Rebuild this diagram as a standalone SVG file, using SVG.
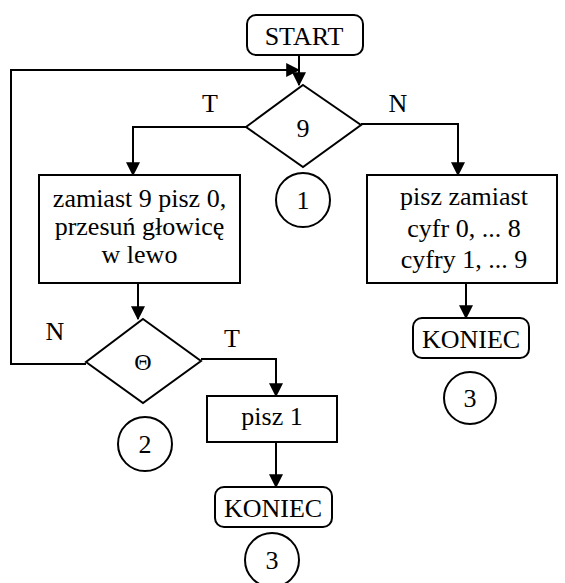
<svg xmlns="http://www.w3.org/2000/svg" width="565" height="583" viewBox="0 0 565 583" font-family="'Liberation Serif', 'Times New Roman', serif">
  <style>
    .shape { fill: #ffffff; stroke: #000000; stroke-width: 2; }
    .wire { fill: none; stroke: #000000; stroke-width: 2; }
    text { font-family: 'Liberation Serif', 'Times New Roman', serif; font-size: 26px; fill: #000000; text-anchor: middle; }
    .sym { font-size: 24px; }
  </style>
  <defs>
    <marker id="arrow" markerUnits="userSpaceOnUse" markerWidth="14" markerHeight="14" viewBox="0 0 12 12" refX="11" refY="6" orient="auto">
      <path d="M0,0 L12,6 L0,12 Z" fill="#000000"/>
    </marker>
  </defs>
  <rect width="565" height="583" fill="#ffffff"/>

  <!-- connectors -->
  <g id="connectors">
    <path class="wire" d="M299,55 V85" marker-end="url(#arrow)"/>
    <path class="wire" d="M86,364 H11 V70 H299" marker-end="url(#arrow)"/>
    <path class="wire" d="M246,127 H133 V175" marker-end="url(#arrow)"/>
    <path class="wire" d="M361,124 H458 V175" marker-end="url(#arrow)"/>
    <path class="wire" d="M138,283 V319" marker-end="url(#arrow)"/>
    <path class="wire" d="M201,359 H276 V396" marker-end="url(#arrow)"/>
    <path class="wire" d="M466,283 V318" marker-end="url(#arrow)"/>
    <path class="wire" d="M276,442 V487" marker-end="url(#arrow)"/>
    <text x="210" y="112">T</text>
    <text x="398" y="112">N</text>
    <text x="55" y="340">N</text>
    <text x="232" y="347">T</text>
  </g>

  <g id="start">
    <rect class="shape" x="247" y="15" width="116" height="40" rx="9"/>
    <text x="304" y="45">START</text>
  </g>

  <g id="decision-9">
    <polygon class="shape" points="303,85 361,125 303,167 246,127"/>
    <text x="303" y="137">9</text>
  </g>

  <g id="mark-1">
    <circle class="shape" cx="303" cy="200" r="27"/>
    <text x="303" y="209">1</text>
  </g>

  <g id="shift-left">
    <rect class="shape" x="39" y="175" width="201" height="108"/>
    <text x="139.5" y="207">zamiast 9 pisz 0,</text>
    <text x="139.5" y="235">przesuń głowicę</text>
    <text x="139.5" y="263">w lewo</text>
  </g>

  <g id="increment">
    <rect class="shape" x="367" y="175" width="190" height="108"/>
    <text x="464" y="205">pisz zamiast</text>
    <text x="464" y="237">cyfr 0, ... 8</text>
    <text x="464" y="268">cyfry 1, ... 9</text>
  </g>

  <g id="end-right">
    <rect class="shape" x="413" y="318" width="116" height="40" rx="9"/>
    <text x="471" y="348">KONIEC</text>
  </g>

  <g id="mark-3-right">
    <circle class="shape" cx="470" cy="398" r="26"/>
    <text x="470" y="407">3</text>
  </g>

  <g id="decision-blank">
    <polygon class="shape" points="143,319 201,361 143,403 86,362"/>
    <text class="sym" x="143" y="370">Θ</text>
  </g>

  <g id="mark-2">
    <circle class="shape" cx="145" cy="444" r="27"/>
    <text x="145" y="453">2</text>
  </g>

  <g id="write-one">
    <rect class="shape" x="207" y="396" width="130" height="46"/>
    <text x="272" y="425">pisz 1</text>
  </g>

  <g id="end-bottom">
    <rect class="shape" x="215" y="487" width="117" height="40" rx="9"/>
    <text x="273" y="517">KONIEC</text>
  </g>

  <g id="mark-3-bottom">
    <circle class="shape" cx="272" cy="560" r="27"/>
    <text x="272" y="569">3</text>
  </g>
</svg>
